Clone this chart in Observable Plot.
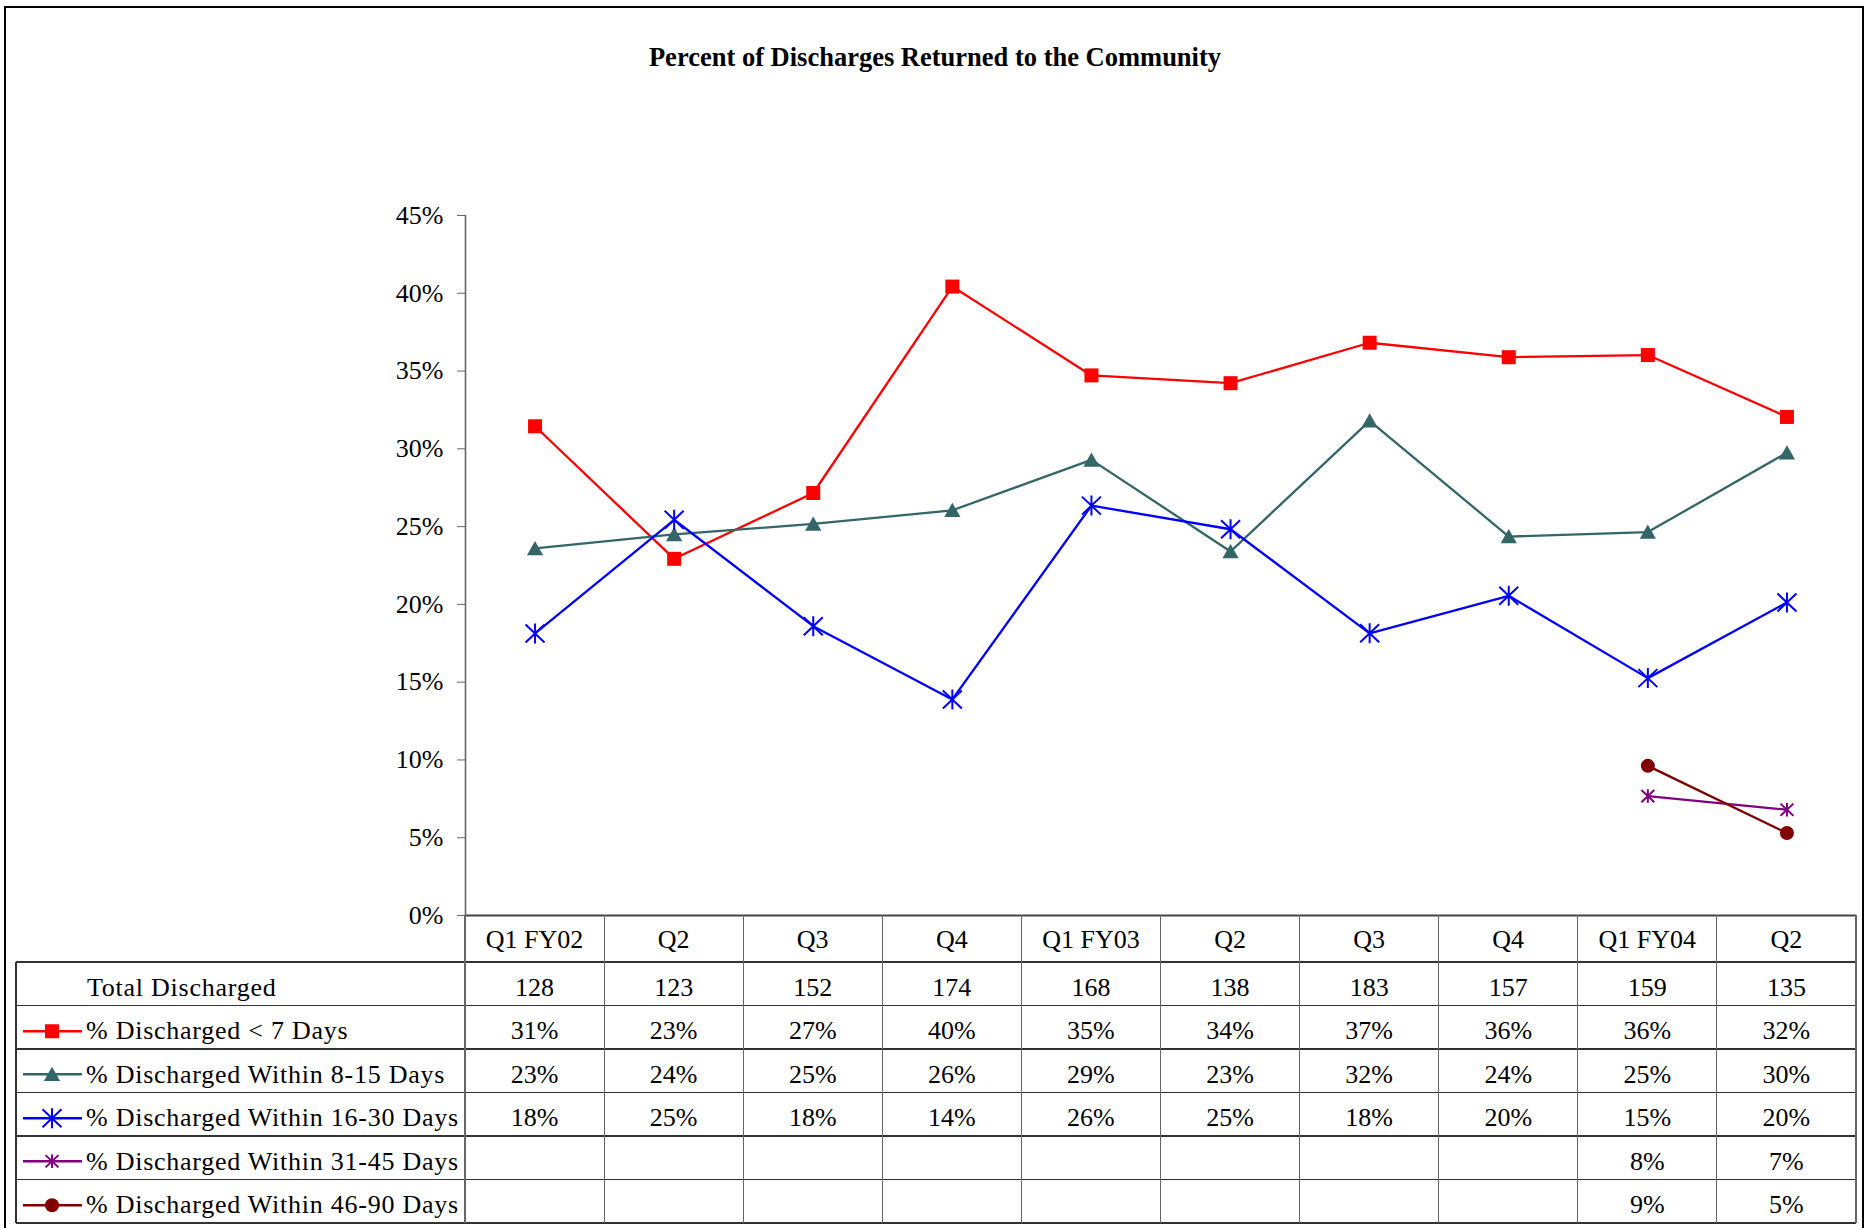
<!DOCTYPE html>
<html><head><meta charset="utf-8">
<script src="https://cdn.jsdelivr.net/npm/d3@7"></script>
<script src="https://cdn.jsdelivr.net/npm/@observablehq/plot@0.6"></script>
<style>
html,body{margin:0;padding:0;background:#fff;}
#wrap{position:relative;width:1870px;height:1228px;overflow:hidden;background:#fff;font-family:"Liberation Serif","Times New Roman",serif;color:#000;}
#frame{position:absolute;left:4px;top:6px;width:1860px;height:1300px;border:2px solid #000;box-sizing:border-box;}
#title{position:absolute;left:0;top:44px;width:1870px;text-align:center;font-weight:bold;font-size:26.5px;line-height:27px;}
#chart{position:absolute;left:0;top:0;}
.cell{position:absolute;display:flex;align-items:center;justify-content:center;font-size:26px;line-height:26px;white-space:nowrap;padding-top:3px;box-sizing:border-box;}
.body{padding-top:8px;}
.lab{justify-content:flex-start;letter-spacing:0.75px;}
.ln{position:absolute;}
</style></head><body><div id="wrap"><div id="frame"></div><div id="title"></div><div id="chart"></div></div>
<script>
// ---------- data ----------
const title = "Percent of Discharges Returned to the Community";
const categories = ["Q1 FY02","Q2","Q3","Q4","Q1 FY03","Q2","Q3","Q4","Q1 FY04","Q2"];
const totalLabel = "Total Discharged";
const totalDischarged = ["128","123","152","174","168","138","183","157","159","135"];
const seriesNames = ["% Discharged < 7 Days","% Discharged Within 8-15 Days","% Discharged Within 16-30 Days","% Discharged Within 31-45 Days","% Discharged Within 46-90 Days"];
const seriesColors = ["#FF0000","#336666","#0000FF","#800080","#800000"];
const under7 = [31.45,22.93,27.16,40.43,34.72,34.22,36.82,35.89,36.03,32.05];
const within8to15 = [23.6,24.5,25.17,26.05,29.29,23.4,31.8,24.36,24.65,29.75];
const within16to30 = [18.13,25.44,18.6,13.89,26.35,24.83,18.14,20.55,15.26,20.12];
const within31to45 = [null,null,null,null,null,null,null,null,7.68,6.8];
const within46to90 = [null,null,null,null,null,null,null,null,9.62,5.3];
const under7Text = ["31%","23%","27%","40%","35%","34%","37%","36%","36%","32%"];
const within8to15Text = ["23%","24%","25%","26%","29%","23%","32%","24%","25%","30%"];
const within16to30Text = ["18%","25%","18%","14%","26%","25%","18%","20%","15%","20%"];
const within31to45Text = ["","","","","","","","","8%","7%"];
const within46to90Text = ["","","","","","","","","9%","5%"];
const yTicks = [0,5,10,15,20,25,30,35,40,45];

// ---------- symbols ----------
const rOf = size => Math.sqrt(size / Math.PI);
const symSquare = {draw(c, size){const r = rOf(size); c.rect(-r, -r, 2*r, 2*r);}};
const symTriangle = {draw(c, size){const r = rOf(size); c.moveTo(0, -r); c.lineTo(r*1.08, r*0.9); c.lineTo(-r*1.08, r*0.9); c.closePath();}};
const symStar = {draw(c, size){const r = rOf(size); c.moveTo(0,-r); c.lineTo(0,r); c.moveTo(-r*0.95,-r*0.9); c.lineTo(r*0.95,r*0.9); c.moveTo(-r*0.95,r*0.9); c.lineTo(r*0.95,-r*0.9);}};
const symCircle = {draw(c, size){const r = rOf(size); c.moveTo(r,0); c.arc(0,0,r,0,2*Math.PI);}};

const seriesValues = [under7, within8to15, within16to30, within31to45, within46to90];
const seriesText = [under7Text, within8to15Text, within16to30Text, within31to45Text, within46to90Text];
const seriesStyle = [
  {symbol: symSquare, r: 7, fill: true, sw: 0},
  {symbol: symTriangle, r: 7.5, fill: true, sw: 0},
  {symbol: symStar, r: 10, fill: false, sw: 2},
  {symbol: symStar, r: 6.8, fill: false, sw: 2},
  {symbol: symCircle, r: 7, fill: true, sw: 0}
];

document.getElementById("title").textContent = title;

const marks = [];
seriesValues.forEach((vals, s) => {
  const data = vals.map((v, i) => ({i, v})).filter(d => d.v != null);
  const col = seriesColors[s], st = seriesStyle[s];
  marks.push(Plot.line(data, {x: d => d.i + 0.5, y: "v", stroke: col, strokeWidth: 2.3}));
  marks.push(Plot.dot(data, {x: d => d.i + 0.5, y: "v", symbol: st.symbol, r: st.r,
    fill: st.fill ? col : "none", stroke: st.fill ? "none" : col, strokeWidth: st.sw}));
});

const chart = Plot.plot({
  width: 1870, height: 917,
  marginLeft: 465, marginRight: 14, marginTop: 215, marginBottom: 2,
  style: {fontFamily: "Liberation Serif, Times New Roman, serif", fontSize: "26px", background: "transparent", overflow: "visible"},
  x: {domain: [0, 10], axis: null},
  y: {domain: [0, 45], axis: null},
  marks: [
    Plot.axisY({ticks: yTicks, tickFormat: d => d + "%", tickSize: 8, tickPadding: 14, fontSize: 26, stroke: "#666", color: "#000", fill: "#000", label: null}),
    Plot.ruleX([0], {y1: 0, y2: 45, stroke: "#666", strokeWidth: 1.6}),
    Plot.ruleY([0], {x1: 0, x2: 10, stroke: "#444", strokeWidth: 2}),
    ...marks
  ]
});
document.getElementById("chart").appendChild(chart);

// ---------- data table ----------
const wrap = document.getElementById("wrap");
const xs = chart.scale("x");
const colX = d3.range(11).map(k => xs.apply(k));
const tableLeft = 16;
const headerTop = 915, headerBottom = 962, rowH = 43.5;
const nRows = 1 + seriesNames.length;
const rowEdges = [headerBottom];
for (let j = 1; j <= nRows; j++) rowEdges.push(headerBottom + j * rowH);
const tableBottom = rowEdges[rowEdges.length - 1];

function hLine(x1, x2, y, color, w) {
  const d = document.createElement("div"); d.className = "ln";
  Object.assign(d.style, {left: x1 + "px", top: (y - w/2) + "px", width: (x2 - x1) + "px", height: w + "px", background: color});
  wrap.appendChild(d);
}
function vLine(x, y1, y2, color, w) {
  const d = document.createElement("div"); d.className = "ln";
  Object.assign(d.style, {left: (x - w/2) + "px", top: y1 + "px", width: w + "px", height: (y2 - y1) + "px", background: color});
  wrap.appendChild(d);
}
function cell(x1, x2, y1, y2, text, cls) {
  const d = document.createElement("div"); d.className = "cell" + (cls ? " " + cls : "");
  Object.assign(d.style, {left: x1 + "px", top: y1 + "px", width: (x2 - x1) + "px", height: (y2 - y1) + "px"});
  d.textContent = text;
  wrap.appendChild(d);
  return d;
}

// grid
rowEdges.forEach(y => hLine(tableLeft, colX[10], y, "#333", 1.2));
for (let k = 0; k <= 10; k++) vLine(colX[k], headerTop, tableBottom, "#666", 1.2);
vLine(tableLeft, headerBottom, tableBottom, "#333", 1.2);

// header
categories.forEach((c, k) => cell(colX[k], colX[k+1], headerTop, headerBottom, c));
// total row
cell(tableLeft + 71, colX[0], rowEdges[0], rowEdges[1], totalLabel, "lab body");
totalDischarged.forEach((t, k) => cell(colX[k], colX[k+1], rowEdges[0], rowEdges[1], t, "body"));
// series rows
seriesNames.forEach((name, s) => {
  const y1 = rowEdges[s+1], y2 = rowEdges[s+2];
  cell(tableLeft + 70, colX[0], y1, y2, name, "lab body");
  seriesText[s].forEach((t, k) => cell(colX[k], colX[k+1], y1, y2, t, "body"));
  // legend key
  const st = seriesStyle[s], col = seriesColors[s];
  const svg = d3.create("svg").attr("width", 66).attr("height", rowH)
    .style("position", "absolute").style("left", "20px").style("top", (y1) + "px");
  const cy = rowH / 2 + 3.5;
  svg.append("line").attr("x1", 3).attr("x2", 62).attr("y1", cy).attr("y2", cy).attr("stroke", col).attr("stroke-width", 2.3);
  svg.append("path").attr("transform", `translate(32,${cy})`)
    .attr("d", d3.symbol().type(st.symbol).size(Math.PI * st.r * st.r)())
    .attr("fill", st.fill ? col : "none").attr("stroke", st.fill ? "none" : col).attr("stroke-width", st.sw);
  wrap.appendChild(svg.node());
});
</script>
</body></html>
